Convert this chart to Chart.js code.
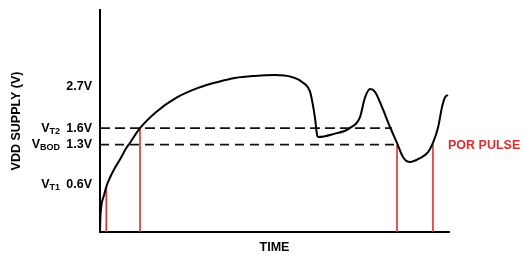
<!DOCTYPE html>
<html>
<head>
<meta charset="utf-8">
<script src="https://cdn.jsdelivr.net/npm/chart.js@4"></script>
<style>
  html, body { margin: 0; padding: 0; background: #fff; }
  canvas { display: block; }
</style>
</head>
<body>
<canvas id="chart" width="524" height="257"></canvas>
<script>
// time axis 0..100, supply level in schematic units 0..100
const curveX = [0, 0.06, 0.37, 1.2, 1.81, 2.78, 4.21, 5.64, 7.54, 8.51, 11.46, 16.1, 21.8, 28.1, 33.8, 38.7, 44.4, 50.1, 55.0, 57.9, 60.2, 61.0, 61.6, 62.2, 62.5, 66.8, 71.6, 74.5, 75.9, 77.4, 78.8, 80.8, 83.1, 85.1, 86.8, 88.8, 91.7, 94.0, 95.4, 96.9, 98.0, 98.9, 99.7]
const curveY = [0, 4.5, 11.4, 16.8, 20.4, 24.2, 28.7, 32.4, 37.8, 40.0, 46.8, 54.1, 60.4, 64.9, 67.6, 69.4, 70.3, 70.7, 69.8, 67.6, 63.1, 57.2, 51.4, 43.7, 42.8, 44.1, 46.8, 51.8, 60.4, 64.4, 63.1, 56.3, 47.3, 40.1, 33.8, 31.5, 33.3, 36.0, 40.1, 47.3, 56.3, 60.8, 61.7]

const levelValues = [21.2, 39.4, 46.8, 65.5]
const levelLabels = ["0.6V", "1.3V", "1.6V", "2.7V"]
const levelNames = ["T1", "BOD", "T2", ""]

// dashed threshold lines: level and where they end
const dashLevels = [46.8, 39.4]
const dashEnds = [83.7, 85.1]

// red POR markers
const markerX = [1.81, 11.46, 85.1, 95.4]
const markerTop = [20.4, 46.8, 39.4, 39.4]

const RED = "#dc2e2e"
const FONT = "'Liberation Sans', Arial, Helvetica, sans-serif"

const datasets = [{
  data: curveX.map((x, i) => ({ x, y: curveY[i] })),
  borderColor: "#000",
  borderWidth: 2,
  pointRadius: 0,
  cubicInterpolationMode: "monotone",
  order: 0,
}]

dashLevels.forEach((lv, i) => {
  datasets.push({
    data: [{ x: 0, y: lv }, { x: dashEnds[i], y: lv }],
    borderColor: "#111",
    borderWidth: 1.8,
    borderDash: i === 0 ? [10, 5] : [9, 6],
    pointRadius: 0,
    order: 2,
  })
})

markerX.forEach((x, i) => {
  datasets.push({
    data: [{ x, y: 0 }, { x, y: markerTop[i] }],
    borderColor: RED,
    borderWidth: 1.6,
    pointRadius: 0,
    order: 1,
  })
})

const labelsPlugin = {
  id: "levelNames",
  afterDraw(chart) {
    const ctx = chart.ctx
    const y = chart.scales.y
    const x = chart.scales.x
    ctx.save()
    ctx.fillStyle = "#000"
    ctx.textBaseline = "middle"
    levelValues.forEach((v, i) => {
      const name = levelNames[i]
      if (!name) return
      const py = y.getPixelForValue(v)
      ctx.font = "bold 9px " + FONT
      const subW = ctx.measureText(name).width
      ctx.textAlign = "right"
      ctx.fillText(name, 60, py + 3)
      ctx.font = "bold 12.5px " + FONT
      ctx.fillText("V", 60 - subW, py)
    })
    ctx.fillStyle = RED
    ctx.font = "bold 12.5px " + FONT
    ctx.textAlign = "left"
    ctx.fillText("POR PULSE", x.getPixelForValue(100) - 1, y.getPixelForValue(dashLevels[1]) + 1)
    ctx.restore()
  },
}

new Chart(document.getElementById("chart"), {
  type: "line",
  data: { datasets },
  plugins: [labelsPlugin],
  options: {
    responsive: false,
    animation: false,
    devicePixelRatio: 1,
    layout: { padding: { top: 10, right: 75, left: 0, bottom: 0 } },
    plugins: { legend: { display: false }, tooltip: { enabled: false } },
    scales: {
      x: {
        type: "linear",
        min: 0,
        max: 100,
        grid: { display: false, drawTicks: false },
        border: { display: true, color: "#000", width: 2 },
        ticks: { display: false },
        title: {
          display: true,
          text: "TIME",
          color: "#000",
          font: { family: FONT, size: 12.5, weight: "bold" },
          padding: { top: 0, bottom: 1.5 },
        },
        afterFit: (scale) => {
          scale.height = 25
          scale.paddingLeft = 0
          scale.paddingRight = 0
        },
      },
      y: {
        type: "linear",
        min: 0,
        max: 100,
        grid: { display: false, drawTicks: false },
        border: { display: true, color: "#000", width: 2 },
        afterBuildTicks: (scale) => { scale.ticks = levelValues.map(v => ({ value: v })) },
        ticks: {
          color: "#000",
          padding: 8,
          font: { family: FONT, size: 12.5, weight: "bold" },
          callback: (value, index) => levelLabels[index],
        },
        title: {
          display: true,
          text: "VDD SUPPLY (V)",
          color: "#000",
          font: { family: FONT, size: 12.5, weight: "bold" },
          padding: { top: 9.5, bottom: 0 },
        },
        afterFit: (scale) => {
          scale.width = 100
          scale.paddingTop = 0
          scale.paddingBottom = 0
        },
      },
    },
  },
})
</script>
</body>
</html>
